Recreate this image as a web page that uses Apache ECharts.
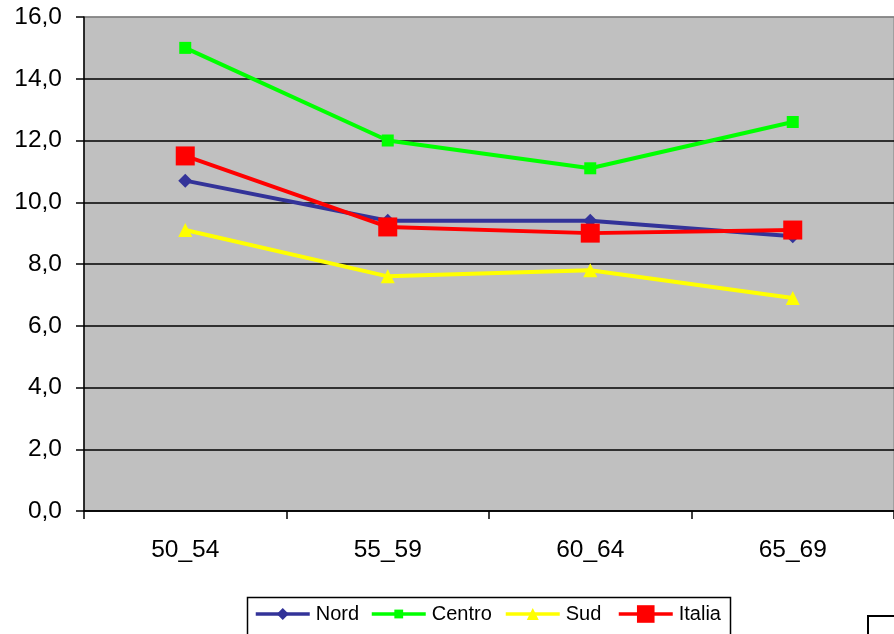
<!DOCTYPE html>
<html>
<head>
<meta charset="utf-8">
<script src="https://cdn.jsdelivr.net/npm/echarts@6/dist/echarts.min.js"></script>
<style>html,body{margin:0;padding:0;background:#fff;}#c{width:894px;height:634px;}</style>
</head>
<body>
<div id="c"></div>
<script>
var categories = ['50_54', '55_59', '60_64', '65_69'];
var nord = [10.7, 9.4, 9.4, 8.9];
var centro = [15.0, 12.0, 11.1, 12.6];
var sud = [9.1, 7.6, 7.8, 6.9];
var italia = [11.5, 9.2, 9.0, 9.1];
var seriesNames = ['Nord', 'Centro', 'Sud', 'Italia'];

var chart = echarts.init(document.getElementById('c'), null, {renderer: 'canvas'});
var font = 'Liberation Sans, Arial, sans-serif';
function mk(name, data, color, symbol, size) {
  return {
    name: name, type: 'line', data: data,
    symbol: symbol, symbolSize: size,
    lineStyle: {color: color, width: 4},
    itemStyle: {color: color},
    animation: false
  };
}
function lg(name, left, h) {
  return {
    data: [name], left: left, top: 603, itemWidth: 54, itemHeight: h, itemGap: 0,
    textStyle: {color: '#000', fontFamily: font, fontSize: 20, lineHeight: 22, padding: [0, 0, 0, 1]},
    lineStyle: {width: 3.5},
    padding: 0
  };
}
var splitColors = ['#000', '#000', '#000', '#000', '#000', '#000', '#000', '#000', '#808080'];
chart.setOption({
  animation: false,
  grid: {left: 84, top: 17, width: 812, height: 494, show: true, backgroundColor: '#C0C0C0', borderColor: '#808080', borderWidth: 1},
  xAxis: {
    type: 'category', data: categories, boundaryGap: true,
    axisLine: {lineStyle: {color: '#000', width: 1.5}},
    axisTick: {show: true, inside: false, length: 8, alignWithLabel: false, lineStyle: {color: '#000', width: 1.5}},
    axisLabel: {color: '#000', fontFamily: font, fontSize: 24.5, margin: 27},
    splitLine: {show: false}
  },
  yAxis: {
    type: 'value', min: 0, max: 16, interval: 2,
    axisLine: {show: true, lineStyle: {color: '#000', width: 1.5}},
    axisTick: {show: true, inside: false, length: 8, lineStyle: {color: '#000', width: 1.5}},
    axisLabel: {color: '#000', fontFamily: font, fontSize: 24.5, margin: 22,
      formatter: function (v) { return v.toFixed(1).replace('.', ','); }},
    splitLine: {show: true, lineStyle: {color: splitColors, width: 1.5}}
  },
  legend: [
    lg('Nord', 254, 15),
    lg('Centro', 370, 11),
    lg('Sud', 504, 15),
    lg('Italia', 617, 22)
  ],
  graphic: [
    {type: 'rect', left: 245, top: 595, shape: {width: 483, height: 44}, style: {fill: 'none', stroke: '#000', lineWidth: 1.5}, z: 100},
    {type: 'rect', left: 867, top: 615, shape: {width: 40, height: 30}, style: {fill: '#fff', stroke: '#000', lineWidth: 2}, z: 100}
  ],
  series: [
    mk('Nord', nord, '#333399', 'diamond', 14),
    mk('Centro', centro, '#00FF00', 'rect', 12),
    mk('Sud', sud, '#FFFF00', 'triangle', 14),
    mk('Italia', italia, '#FF0000', 'rect', 19)
  ]
});
</script>
</body>
</html>
